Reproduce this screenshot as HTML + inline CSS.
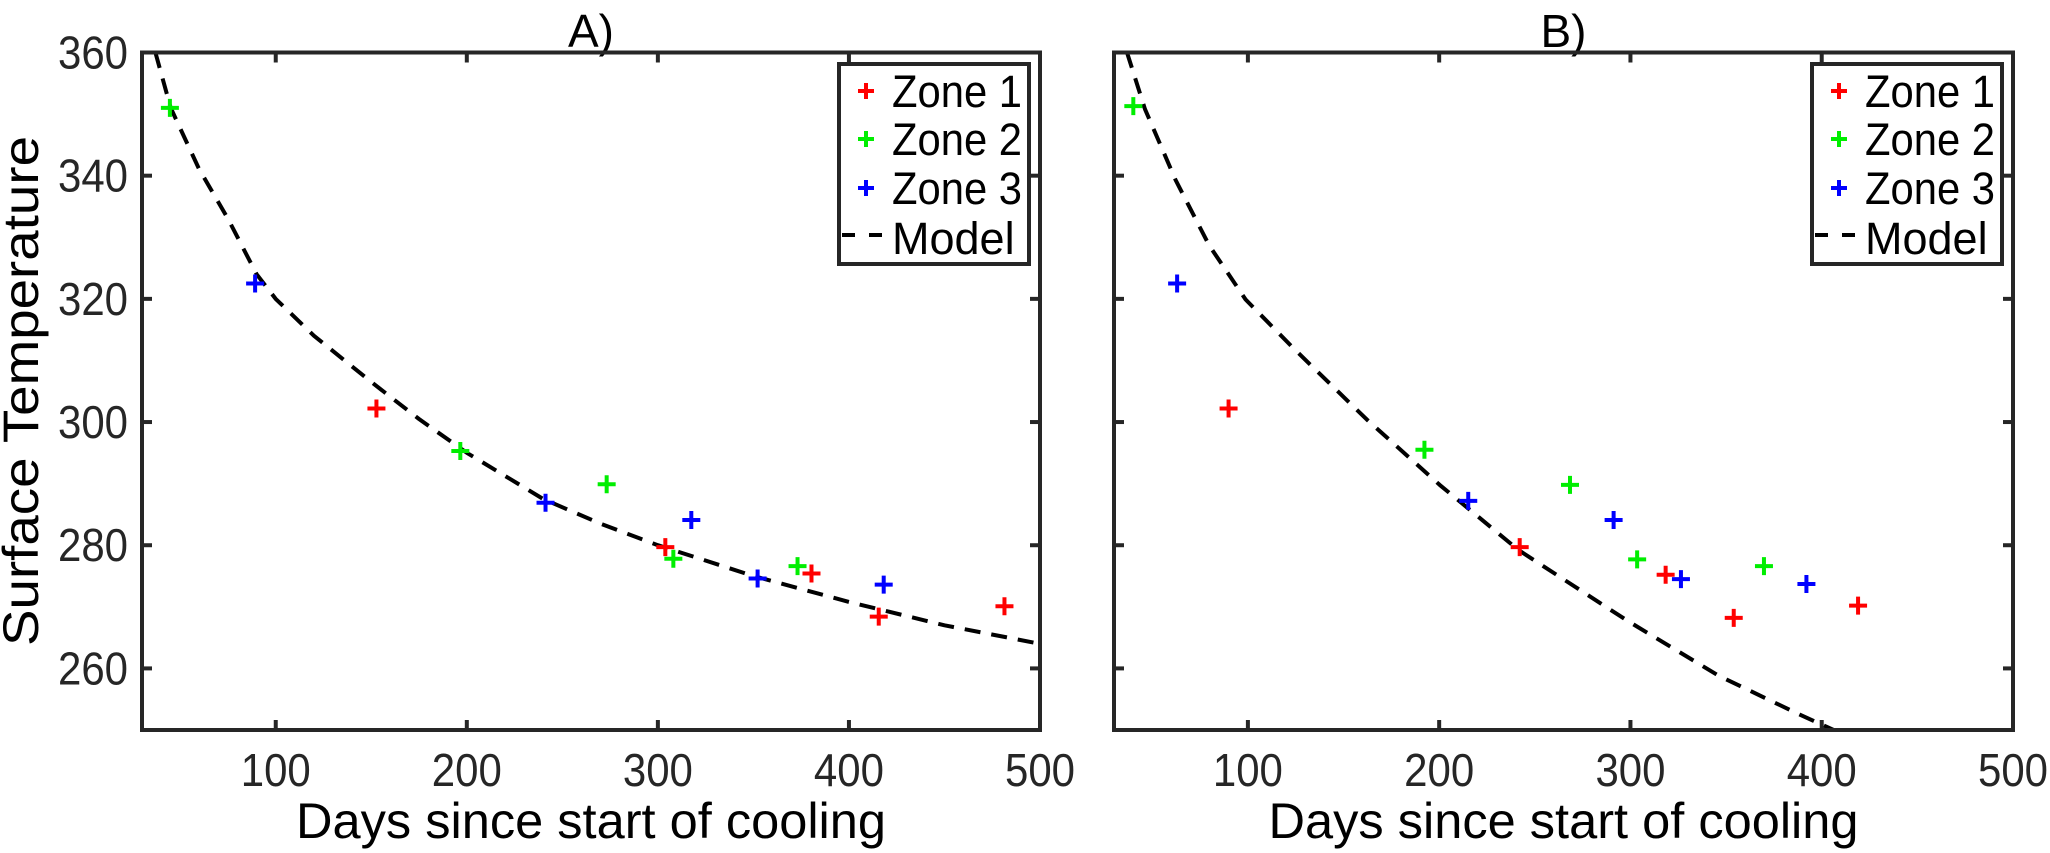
<!DOCTYPE html>
<html><head><meta charset="utf-8">
<style>
html,body{margin:0;padding:0;background:#fff;}
svg{display:block;font-family:"Liberation Sans",Arial,sans-serif;}
</style></head>
<body>
<svg id="chart" width="2050" height="853" viewBox="0 0 2050 853" xmlns="http://www.w3.org/2000/svg"></svg>
<script>
// ---- data ----
const xTicks = [100, 200, 300, 400, 500];
const yTicks = [260, 280, 300, 320, 340, 360];
const zoneNames = ["Zone 1", "Zone 2", "Zone 3"];
const zoneColors = ["#ff0000", "#00ee00", "#0000ff"];

// Panel A
const aZone1X = [152.7, 303.9, 380.4, 415.6, 481.4];
const aZone1Y = [302.2, 279.7, 275.4, 268.4, 270.1];
const aZone2X = [44.6, 196.6, 273.2, 308.1, 373.1];
const aZone2Y = [351.0, 295.3, 289.9, 277.8, 276.6];
const aZone3X = [89.2, 241.2, 317.5, 352.2, 418.2];
const aZone3Y = [322.5, 286.9, 284.1, 274.6, 273.6];
const aModelX = [37, 45, 60, 75, 90, 100, 120, 150, 175, 200, 240, 270, 300, 350, 400, 450, 500];
const aModelY = [360, 351, 341, 333, 324, 320, 314, 306.5, 300.5, 295, 287.5, 283.5, 280, 275, 270.8, 267, 264];

// Panel B
const bZone1X = [89.9, 242.1, 318.4, 354.0, 419.0];
const bZone1Y = [302.2, 279.7, 275.2, 268.2, 270.2];
const bZone2X = [40.1, 192.3, 268.4, 303.5, 369.8];
const bZone2Y = [351.3, 295.5, 289.8, 277.7, 276.6];
const bZone3X = [63.0, 215.2, 291.2, 326.4, 392.0];
const bZone3Y = [322.5, 287.2, 284.1, 274.5, 273.7];
const bModelX = [36.8, 46.2, 62.2, 79.7, 98.8, 124.1, 162.2, 200.3, 241.6, 298.6, 346.2, 387.2, 406.2];
const bModelY = [360, 350.8, 339.3, 328.7, 319.9, 311.9, 300.4, 289.8, 279.2, 267.7, 258.8, 252.7, 250];

const NS = "http://www.w3.org/2000/svg";
const svg = document.getElementById("chart");
function mk(tag, attrs, parent) {
  const e = document.createElementNS(NS, tag);
  for (const k in attrs) e.setAttribute(k, attrs[k]);
  (parent || svg).appendChild(e);
  return e;
}
const X_MIN = 30, X_MAX = 500, Y_MIN = 250, Y_MAX = 360;
const TOP = 52.5, BOTTOM = 730;
const AX = "#262626";

function drawPanel(id, left, right, title, zones, model) {
  const g = mk("g", {});
  
  
  const sx = v => left + (v - X_MIN) / (X_MAX - X_MIN) * (right - left);
  const sy = v => BOTTOM - (v - Y_MIN) / (Y_MAX - Y_MIN) * (BOTTOM - TOP);

  const cp = mk("clipPath", {id: id + "-clip"}, g);
  mk("rect", {x: left, y: TOP, width: right - left, height: BOTTOM - TOP}, cp);

  const t = mk("text", {x: (left + right) / 2, y: 47, "text-anchor": "middle", "font-size": 46, fill: "#000"}, g);
  t.textContent = title;
  
  

  xTicks.forEach(v => {
    const x = sx(v);
    mk("line", {x1: x, x2: x, y1: BOTTOM, y2: BOTTOM - 10, stroke: AX, "stroke-width": 4}, g);
    mk("line", {x1: x, x2: x, y1: TOP, y2: TOP + 10, stroke: AX, "stroke-width": 4}, g);
    const lb = mk("text", {x: x, y: 786, "text-anchor": "middle", "font-size": 46, fill: AX, textLength: 70, lengthAdjust: "spacingAndGlyphs"}, g);
    lb.textContent = v;
    
    
  });
  yTicks.forEach(v => {
    const y = sy(v);
    mk("line", {x1: left, x2: left + 10, y1: y, y2: y, stroke: AX, "stroke-width": 4}, g);
    mk("line", {x1: right, x2: right - 10, y1: y, y2: y, stroke: AX, "stroke-width": 4}, g);
    if (id === "panel-a") {
      const lb = mk("text", {x: 128, y: y + 16, "text-anchor": "end", "font-size": 46, fill: AX, textLength: 70, lengthAdjust: "spacingAndGlyphs"}, g);
      lb.textContent = v;
      
      
    }
  });

  const xt = mk("text", {x: (left + right) / 2, y: 838, "text-anchor": "middle", "font-size": 50, fill: "#000", textLength: 590, lengthAdjust: "spacingAndGlyphs"}, g);
  xt.textContent = "Days since start of cooling";
  
  

  const pts = model[0].map((v, i) => sx(v).toFixed(1) + "," + sy(model[1][i]).toFixed(1)).join(" ");
  const pl = mk("polyline", {points: pts, fill: "none", stroke: "#000", "stroke-width": 4, "stroke-dasharray": "16 11", "stroke-linejoin": "round", "clip-path": "url(#" + id + "-clip)"}, g);
  
  

  zones.forEach((z, zi) => {
    z[0].forEach((v, i) => {
      const cx = sx(v), cy = sy(z[1][i]);
      const m = mk("path", {d: `M${cx - 9},${cy}H${cx + 9}M${cx},${cy - 9}V${cy + 9}`, stroke: zoneColors[zi], "stroke-width": 4, fill: "none"}, g);
      
      
    });
  });

  const fr = mk("rect", {x: left, y: TOP, width: right - left, height: BOTTOM - TOP, fill: "none", stroke: AX, "stroke-width": 4}, g);
  
  

  const lx = right - 201, ly = 64, lw = 190, lh = 200;
  const lg = mk("g", {}, g);
  
  
  mk("rect", {x: lx, y: ly, width: lw, height: lh, fill: "#fff", stroke: AX, "stroke-width": 4}, lg);
  const rows = [91, 139, 188, 238];
  zoneNames.forEach((n, i) => {
    const mx = lx + 27, my = rows[i];
    mk("path", {d: `M${mx - 8},${my}H${mx + 8}M${mx},${my - 8}V${my + 8}`, stroke: zoneColors[i], "stroke-width": 4}, lg);
    const tx = mk("text", {x: lx + 53, y: my + 16, "font-size": 45, fill: "#000", textLength: 130, lengthAdjust: "spacingAndGlyphs"}, lg);
    tx.textContent = n;
    
    
  });
  mk("line", {x1: lx + 3, x2: lx + 50, y1: rows[3] - 3, y2: rows[3] - 3, stroke: "#000", "stroke-width": 4, "stroke-dasharray": "13 14"}, lg);
  const mt = mk("text", {x: lx + 53, y: rows[3] + 16, "font-size": 45, fill: "#000"}, lg);
  mt.textContent = "Model";
  
  
}

drawPanel("panel-a", 142, 1040, "A)",
  [[aZone1X, aZone1Y], [aZone2X, aZone2Y], [aZone3X, aZone3Y]], [aModelX, aModelY]);
drawPanel("panel-b", 1114, 2013, "B)",
  [[bZone1X, bZone1Y], [bZone2X, bZone2Y], [bZone3X, bZone3Y]], [bModelX, bModelY]);

const yt = mk("text", {x: 0, y: 0, transform: "translate(38,391) rotate(-90)", "text-anchor": "middle", "font-size": 50, fill: "#000", textLength: 510, lengthAdjust: "spacingAndGlyphs"});
yt.textContent = "Surface Temperature";


</script>
</body></html>
